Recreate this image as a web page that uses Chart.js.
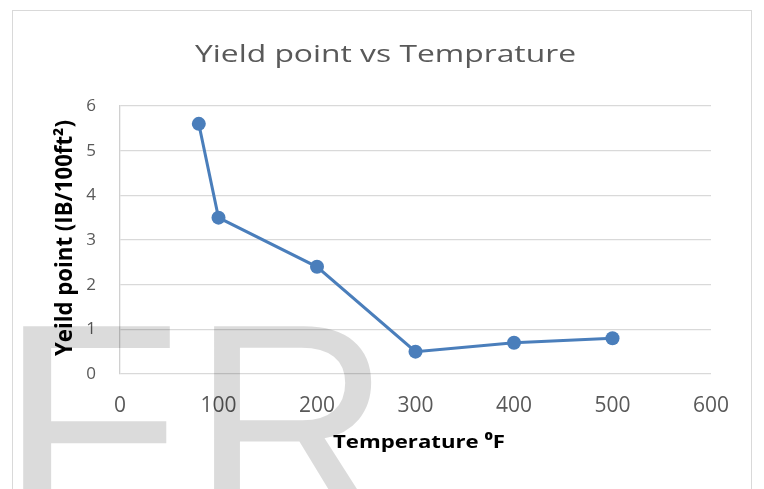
<!DOCTYPE html>
<html>
<head>
<meta charset="utf-8">
<script src="https://cdn.jsdelivr.net/npm/chart.js@4.4.1/dist/chart.umd.min.js"></script>
<style>
  html, body { margin: 0; padding: 0; background: #ffffff; overflow: hidden; }
  #wrap { width: 764px; height: 489px; position: relative; }
</style>
</head>
<body>
<div id="wrap"><canvas id="c" width="764" height="489"></canvas></div>
<script>
// Measured yield point at each test temperature
const temperatures = [80, 100, 200, 300, 400, 500];
const yieldPoints = [5.6, 3.5, 2.4, 0.5, 0.7, 0.8];
const xTickValues = [0, 100, 200, 300, 400, 500, 600];
const yTickValues = [0, 1, 2, 3, 4, 5, 6];

const chartTitle = 'Yield point vs Temprature';
const xTitle = 'Temperature \u2070F';
const yTitle = 'Yeild point (IB/100ft\u00B2)';
const watermark = ['F', 'R'];

const FONT = "'Open Sans', Lato, sans-serif";
const BLUE = '#4a7ebb';

// Draw text centred on cx, squeezed/stretched along its run to a given width
function fittedText(ctx, text, cx, baseline, width, crossScale) {
  const w = ctx.measureText(text).width;
  ctx.save();
  ctx.translate(cx, baseline);
  ctx.scale(width / w, crossScale || 1);
  ctx.textAlign = 'center';
  ctx.textBaseline = 'alphabetic';
  ctx.fillText(text, 0, 0);
  ctx.restore();
}

// Place one big glyph so that its ink box spans [left, right] with its top at `top`
function bigGlyph(ctx, ch, left, right, top) {
  const m = ctx.measureText(ch);
  const inkW = m.actualBoundingBoxLeft + m.actualBoundingBoxRight;
  const sx = (right - left) / inkW;
  ctx.save();
  ctx.translate(left, top + m.actualBoundingBoxAscent);
  ctx.scale(sx, 1);
  ctx.textAlign = 'left';
  ctx.textBaseline = 'alphabetic';
  ctx.fillText(ch, m.actualBoundingBoxLeft, 0);
  ctx.restore();
}

// Outer frame, chart title, axis titles and the translucent watermark
const decorations = {
  id: 'decorations',
  beforeDraw(chart) {
    const ctx = chart.ctx;
    ctx.save();
    ctx.fillStyle = '#ffffff';
    ctx.fillRect(0, 0, chart.width, chart.height);
    ctx.strokeStyle = '#d9d9d9';
    ctx.lineWidth = 1;
    ctx.strokeRect(12.5, 10.5, 739, 500);
    ctx.restore();
  },
  afterDraw(chart) {
    const ctx = chart.ctx;
    ctx.save();
    ctx.fillStyle = '#595959';
    ctx.font = `24.5px ${FONT}`;
    fittedText(ctx, chartTitle, 385.5, 62, 381);

    ctx.fillStyle = '#000000';
    ctx.font = `bold 18.6px ${FONT}`;
    fittedText(ctx, xTitle, 419, 448, 172);

    ctx.save();
    ctx.translate(72, 0);
    ctx.rotate(-Math.PI / 2);
    ctx.font = `bold 18.6px ${FONT}`;
    fittedText(ctx, yTitle, -238, 0, 236, 1.2);
    ctx.restore();
    ctx.restore();

    ctx.save();
    ctx.fillStyle = 'rgba(0,0,0,0.14)';
    ctx.font = "286px 'Liberation Sans', Arial, sans-serif";
    bigGlyph(ctx, watermark[0], 22, 172, 322);
    bigGlyph(ctx, watermark[1], 213, 382, 322);
    ctx.restore();
  }
};

new Chart(document.getElementById('c'), {
  type: 'scatter',
  data: {
    datasets: [{
      data: temperatures.map((t, i) => ({ x: t, y: yieldPoints[i] })),
      showLine: true,
      borderColor: BLUE,
      backgroundColor: BLUE,
      borderWidth: 3,
      pointRadius: 7,
      pointHoverRadius: 7,
      pointBorderWidth: 0,
      tension: 0
    }]
  },
  options: {
    responsive: false,
    animation: false,
    devicePixelRatio: 1,
    layout: { padding: { left: 0, top: 106, right: 53, bottom: 0 } },
    plugins: { legend: { display: false }, tooltip: { enabled: false }, title: { display: false } },
    scales: {
      x: {
        type: 'linear',
        min: 0, max: 600,
        afterBuildTicks: s => { s.ticks = xTickValues.map(v => ({ value: v })); },
        afterFit: s => { s.height = 115; },
        grid: { display: false, drawTicks: false },
        border: { display: false },
        ticks: { color: '#595959', font: { family: FONT, size: 21 }, padding: 19, maxRotation: 0 }
      },
      y: {
        min: 0, max: 6,
        afterBuildTicks: s => { s.ticks = yTickValues.map(v => ({ value: v })); },
        afterFit: s => { s.width = 120; },
        grid: { color: '#d9d9d9', lineWidth: 1.3, drawTicks: false },
        border: { display: true, color: '#d0d0d0', width: 1.3 },
        ticks: { color: '#595959', font: { family: FONT, size: 17 }, padding: 24 }
      }
    }
  },
  plugins: [decorations]
});
</script>
</body>
</html>
